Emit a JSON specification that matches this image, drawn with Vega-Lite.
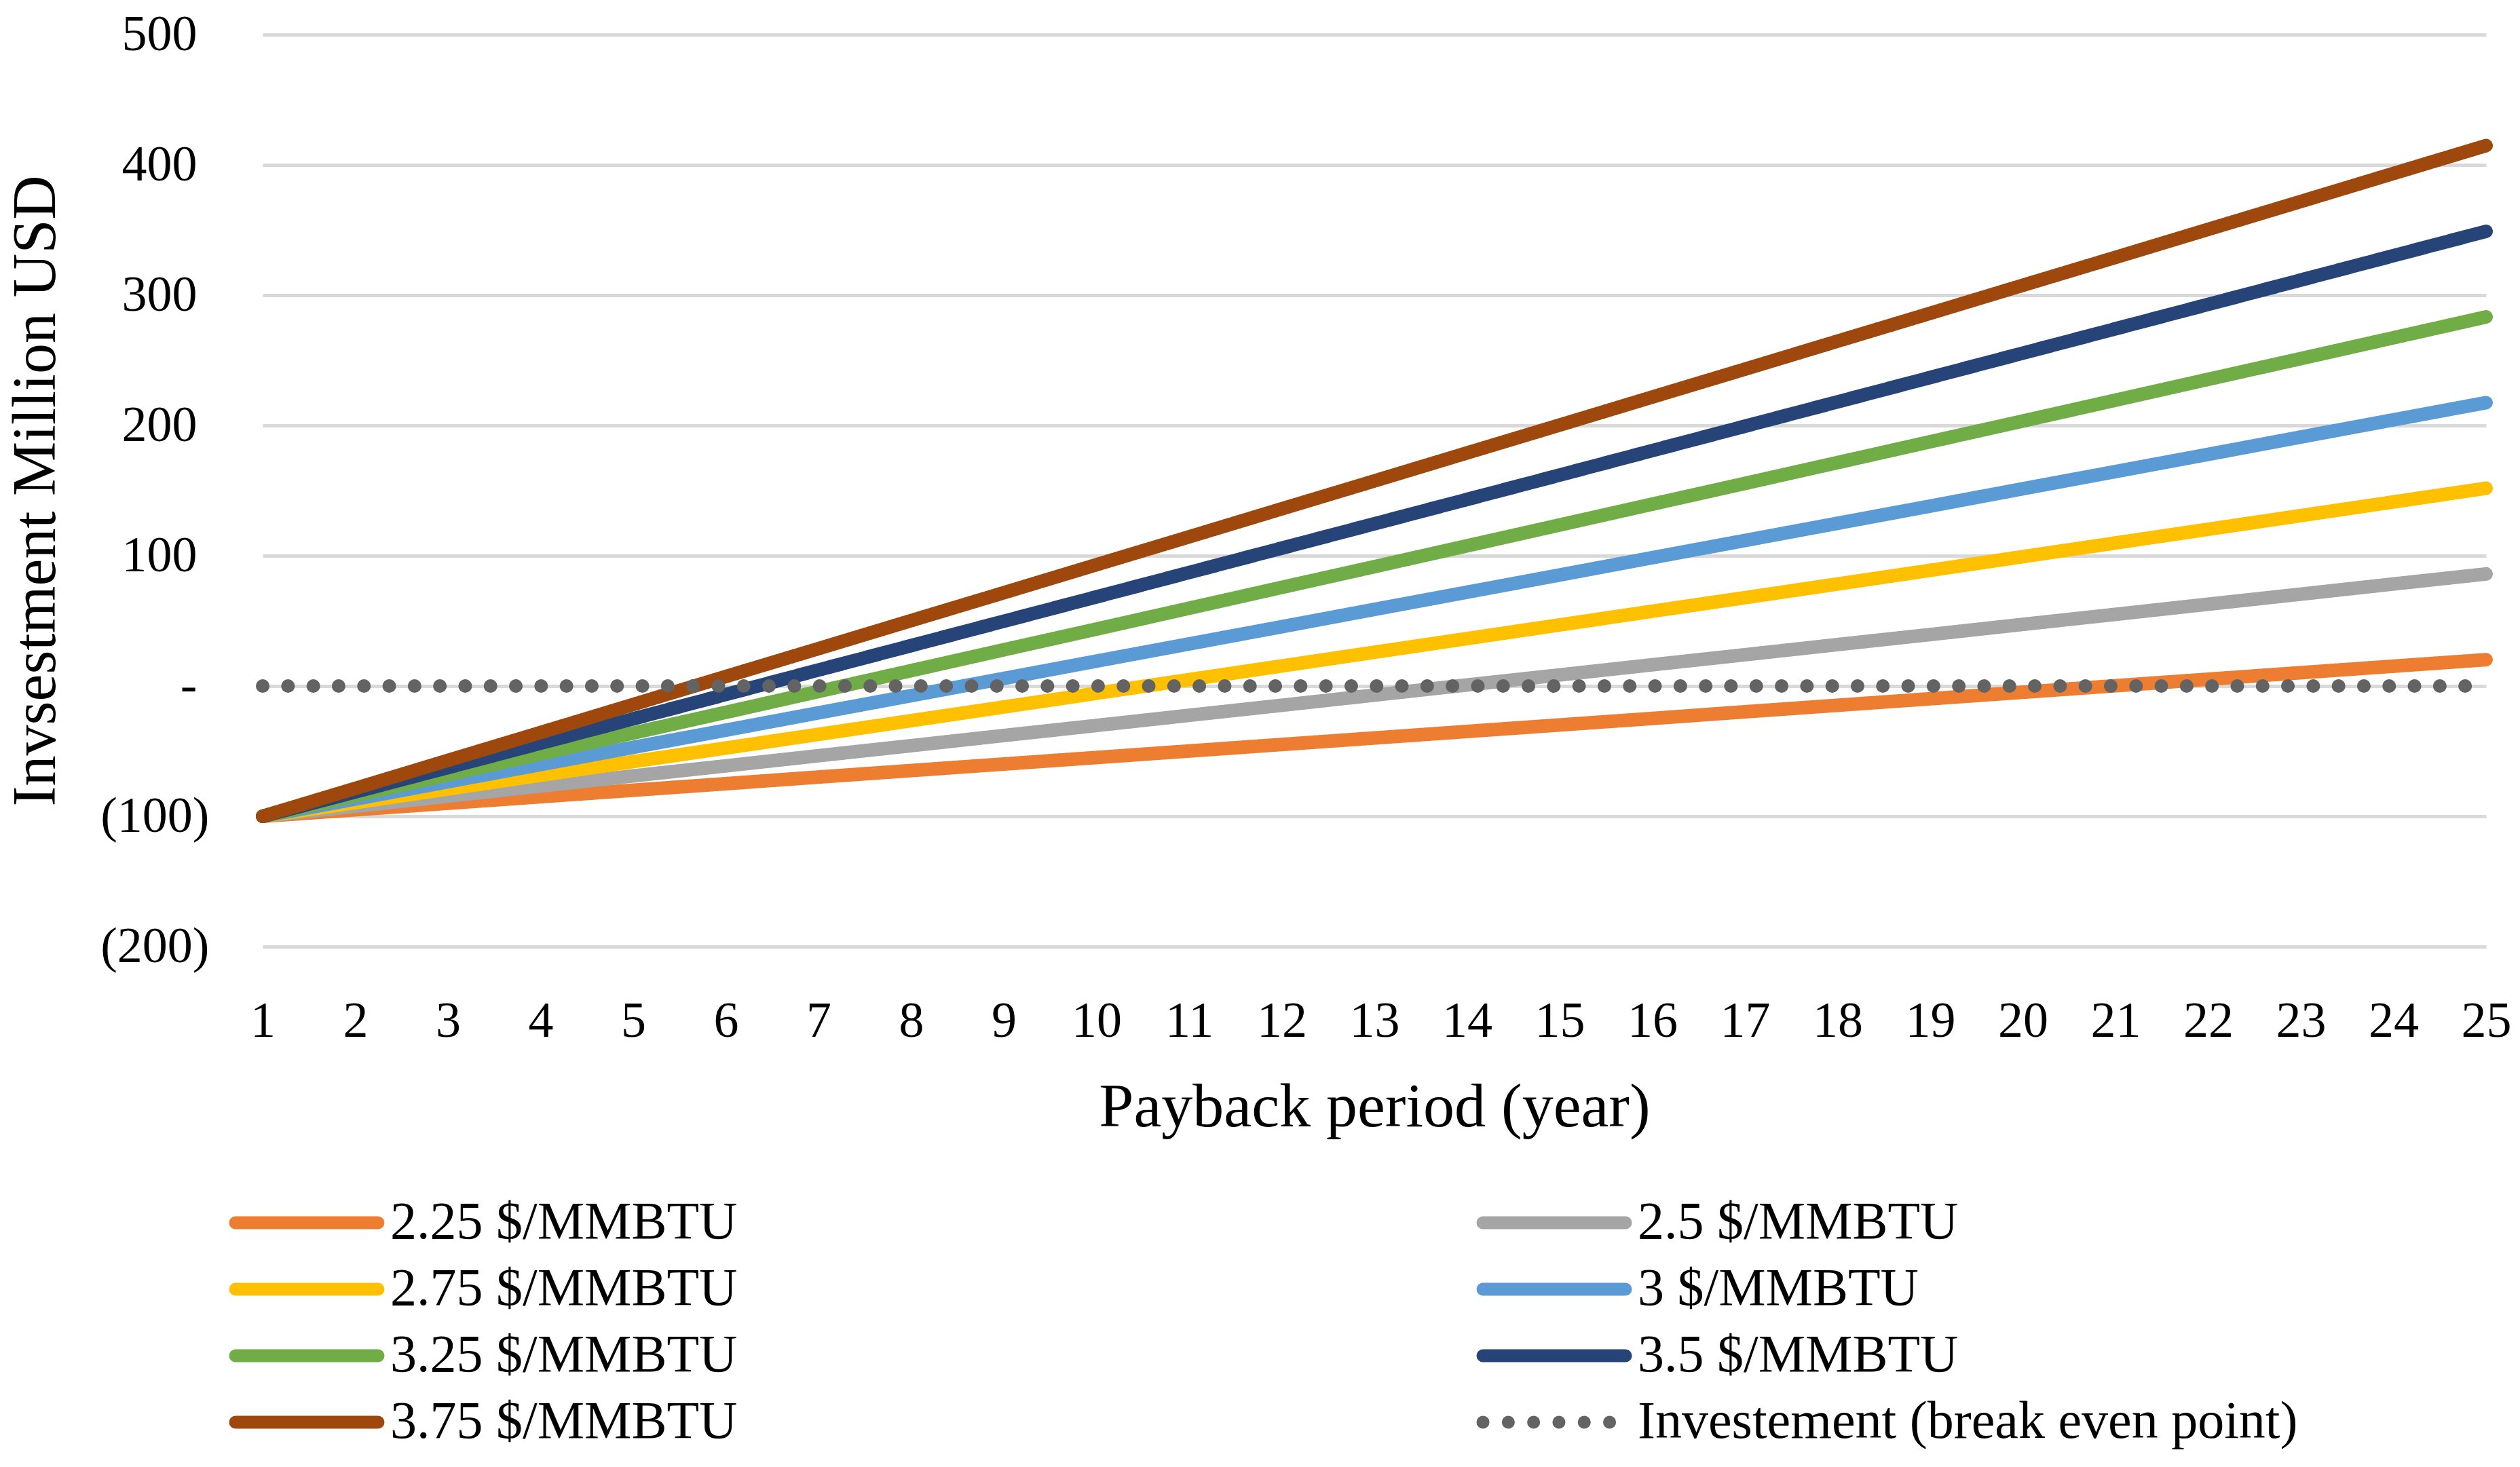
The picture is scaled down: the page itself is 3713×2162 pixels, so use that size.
{
  "$schema": "https://vega.github.io/schema/vega-lite/v6.json",
  "width": 3276,
  "height": 1344,
  "autosize": {"type": "none"},
  "padding": {"left": 387, "top": 51, "right": 50, "bottom": 767},
  "background": "white",
  "config": {
    "view": {"stroke": null},
    "font": "Liberation Serif",
    "axis": {
      "labelFont": "Liberation Serif",
      "titleFont": "Liberation Serif",
      "labelColor": "#000000",
      "titleColor": "#000000",
      "labelFontSize": 74,
      "titleFontWeight": "normal",
      "domain": false,
      "ticks": false,
      "tickSize": 0
    },
    "legend": {
      "labelFont": "Liberation Serif",
      "labelFontSize": 78,
      "labelColor": "#000000"
    }
  },
  "data": {
    "values": [
      {"year":1,"series":"2.25 $/MMBTU","value":-100},{"year":2,"series":"2.25 $/MMBTU","value":-95.0},{"year":3,"series":"2.25 $/MMBTU","value":-90.0},{"year":4,"series":"2.25 $/MMBTU","value":-85.0},{"year":5,"series":"2.25 $/MMBTU","value":-80.0},{"year":6,"series":"2.25 $/MMBTU","value":-75.0},{"year":7,"series":"2.25 $/MMBTU","value":-69.9},{"year":8,"series":"2.25 $/MMBTU","value":-64.9},{"year":9,"series":"2.25 $/MMBTU","value":-59.9},{"year":10,"series":"2.25 $/MMBTU","value":-54.9},{"year":11,"series":"2.25 $/MMBTU","value":-49.9},{"year":12,"series":"2.25 $/MMBTU","value":-44.9},{"year":13,"series":"2.25 $/MMBTU","value":-39.9},{"year":14,"series":"2.25 $/MMBTU","value":-34.9},{"year":15,"series":"2.25 $/MMBTU","value":-29.9},{"year":16,"series":"2.25 $/MMBTU","value":-24.9},{"year":17,"series":"2.25 $/MMBTU","value":-19.8},{"year":18,"series":"2.25 $/MMBTU","value":-14.8},{"year":19,"series":"2.25 $/MMBTU","value":-9.8},{"year":20,"series":"2.25 $/MMBTU","value":-4.8},{"year":21,"series":"2.25 $/MMBTU","value":0.2},{"year":22,"series":"2.25 $/MMBTU","value":5.2},{"year":23,"series":"2.25 $/MMBTU","value":10.2},{"year":24,"series":"2.25 $/MMBTU","value":15.2},{"year":25,"series":"2.25 $/MMBTU","value":20.2},
      {"year":1,"series":"2.5 $/MMBTU","value":-100},{"year":2,"series":"2.5 $/MMBTU","value":-92.3},{"year":3,"series":"2.5 $/MMBTU","value":-84.5},{"year":4,"series":"2.5 $/MMBTU","value":-76.8},{"year":5,"series":"2.5 $/MMBTU","value":-69.0},{"year":6,"series":"2.5 $/MMBTU","value":-61.3},{"year":7,"series":"2.5 $/MMBTU","value":-53.5},{"year":8,"series":"2.5 $/MMBTU","value":-45.8},{"year":9,"series":"2.5 $/MMBTU","value":-38.0},{"year":10,"series":"2.5 $/MMBTU","value":-30.3},{"year":11,"series":"2.5 $/MMBTU","value":-22.5},{"year":12,"series":"2.5 $/MMBTU","value":-14.8},{"year":13,"series":"2.5 $/MMBTU","value":-7.0},{"year":14,"series":"2.5 $/MMBTU","value":0.8},{"year":15,"series":"2.5 $/MMBTU","value":8.5},{"year":16,"series":"2.5 $/MMBTU","value":16.3},{"year":17,"series":"2.5 $/MMBTU","value":24.0},{"year":18,"series":"2.5 $/MMBTU","value":31.8},{"year":19,"series":"2.5 $/MMBTU","value":39.5},{"year":20,"series":"2.5 $/MMBTU","value":47.3},{"year":21,"series":"2.5 $/MMBTU","value":55.0},{"year":22,"series":"2.5 $/MMBTU","value":62.8},{"year":23,"series":"2.5 $/MMBTU","value":70.5},{"year":24,"series":"2.5 $/MMBTU","value":78.3},{"year":25,"series":"2.5 $/MMBTU","value":86.0},
      {"year":1,"series":"2.75 $/MMBTU","value":-100},{"year":2,"series":"2.75 $/MMBTU","value":-89.5},{"year":3,"series":"2.75 $/MMBTU","value":-79.0},{"year":4,"series":"2.75 $/MMBTU","value":-68.5},{"year":5,"series":"2.75 $/MMBTU","value":-58.0},{"year":6,"series":"2.75 $/MMBTU","value":-47.6},{"year":7,"series":"2.75 $/MMBTU","value":-37.1},{"year":8,"series":"2.75 $/MMBTU","value":-26.6},{"year":9,"series":"2.75 $/MMBTU","value":-16.1},{"year":10,"series":"2.75 $/MMBTU","value":-5.6},{"year":11,"series":"2.75 $/MMBTU","value":4.9},{"year":12,"series":"2.75 $/MMBTU","value":15.4},{"year":13,"series":"2.75 $/MMBTU","value":25.9},{"year":14,"series":"2.75 $/MMBTU","value":36.4},{"year":15,"series":"2.75 $/MMBTU","value":46.9},{"year":16,"series":"2.75 $/MMBTU","value":57.4},{"year":17,"series":"2.75 $/MMBTU","value":67.8},{"year":18,"series":"2.75 $/MMBTU","value":78.3},{"year":19,"series":"2.75 $/MMBTU","value":88.8},{"year":20,"series":"2.75 $/MMBTU","value":99.3},{"year":21,"series":"2.75 $/MMBTU","value":109.8},{"year":22,"series":"2.75 $/MMBTU","value":120.3},{"year":23,"series":"2.75 $/MMBTU","value":130.8},{"year":24,"series":"2.75 $/MMBTU","value":141.3},{"year":25,"series":"2.75 $/MMBTU","value":151.8},
      {"year":1,"series":"3 $/MMBTU","value":-100},{"year":2,"series":"3 $/MMBTU","value":-86.8},{"year":3,"series":"3 $/MMBTU","value":-73.5},{"year":4,"series":"3 $/MMBTU","value":-60.3},{"year":5,"series":"3 $/MMBTU","value":-47.1},{"year":6,"series":"3 $/MMBTU","value":-33.9},{"year":7,"series":"3 $/MMBTU","value":-20.6},{"year":8,"series":"3 $/MMBTU","value":-7.4},{"year":9,"series":"3 $/MMBTU","value":5.8},{"year":10,"series":"3 $/MMBTU","value":19.1},{"year":11,"series":"3 $/MMBTU","value":32.3},{"year":12,"series":"3 $/MMBTU","value":45.5},{"year":13,"series":"3 $/MMBTU","value":58.8},{"year":14,"series":"3 $/MMBTU","value":72.0},{"year":15,"series":"3 $/MMBTU","value":85.2},{"year":16,"series":"3 $/MMBTU","value":98.5},{"year":17,"series":"3 $/MMBTU","value":111.7},{"year":18,"series":"3 $/MMBTU","value":124.9},{"year":19,"series":"3 $/MMBTU","value":138.1},{"year":20,"series":"3 $/MMBTU","value":151.4},{"year":21,"series":"3 $/MMBTU","value":164.6},{"year":22,"series":"3 $/MMBTU","value":177.8},{"year":23,"series":"3 $/MMBTU","value":191.1},{"year":24,"series":"3 $/MMBTU","value":204.3},{"year":25,"series":"3 $/MMBTU","value":217.5},
      {"year":1,"series":"3.25 $/MMBTU","value":-100},{"year":2,"series":"3.25 $/MMBTU","value":-84.0},{"year":3,"series":"3.25 $/MMBTU","value":-68.1},{"year":4,"series":"3.25 $/MMBTU","value":-52.1},{"year":5,"series":"3.25 $/MMBTU","value":-36.1},{"year":6,"series":"3.25 $/MMBTU","value":-20.2},{"year":7,"series":"3.25 $/MMBTU","value":-4.2},{"year":8,"series":"3.25 $/MMBTU","value":11.8},{"year":9,"series":"3.25 $/MMBTU","value":27.8},{"year":10,"series":"3.25 $/MMBTU","value":43.7},{"year":11,"series":"3.25 $/MMBTU","value":59.7},{"year":12,"series":"3.25 $/MMBTU","value":75.7},{"year":13,"series":"3.25 $/MMBTU","value":91.6},{"year":14,"series":"3.25 $/MMBTU","value":107.6},{"year":15,"series":"3.25 $/MMBTU","value":123.6},{"year":16,"series":"3.25 $/MMBTU","value":139.6},{"year":17,"series":"3.25 $/MMBTU","value":155.5},{"year":18,"series":"3.25 $/MMBTU","value":171.5},{"year":19,"series":"3.25 $/MMBTU","value":187.5},{"year":20,"series":"3.25 $/MMBTU","value":203.4},{"year":21,"series":"3.25 $/MMBTU","value":219.4},{"year":22,"series":"3.25 $/MMBTU","value":235.4},{"year":23,"series":"3.25 $/MMBTU","value":251.3},{"year":24,"series":"3.25 $/MMBTU","value":267.3},{"year":25,"series":"3.25 $/MMBTU","value":283.3},
      {"year":1,"series":"3.5 $/MMBTU","value":-100},{"year":2,"series":"3.5 $/MMBTU","value":-81.3},{"year":3,"series":"3.5 $/MMBTU","value":-62.6},{"year":4,"series":"3.5 $/MMBTU","value":-43.9},{"year":5,"series":"3.5 $/MMBTU","value":-25.2},{"year":6,"series":"3.5 $/MMBTU","value":-6.5},{"year":7,"series":"3.5 $/MMBTU","value":12.3},{"year":8,"series":"3.5 $/MMBTU","value":31.0},{"year":9,"series":"3.5 $/MMBTU","value":49.7},{"year":10,"series":"3.5 $/MMBTU","value":68.4},{"year":11,"series":"3.5 $/MMBTU","value":87.1},{"year":12,"series":"3.5 $/MMBTU","value":105.8},{"year":13,"series":"3.5 $/MMBTU","value":124.5},{"year":14,"series":"3.5 $/MMBTU","value":143.2},{"year":15,"series":"3.5 $/MMBTU","value":161.9},{"year":16,"series":"3.5 $/MMBTU","value":180.7},{"year":17,"series":"3.5 $/MMBTU","value":199.4},{"year":18,"series":"3.5 $/MMBTU","value":218.1},{"year":19,"series":"3.5 $/MMBTU","value":236.8},{"year":20,"series":"3.5 $/MMBTU","value":255.5},{"year":21,"series":"3.5 $/MMBTU","value":274.2},{"year":22,"series":"3.5 $/MMBTU","value":292.9},{"year":23,"series":"3.5 $/MMBTU","value":311.6},{"year":24,"series":"3.5 $/MMBTU","value":330.3},{"year":25,"series":"3.5 $/MMBTU","value":349.0},
      {"year":1,"series":"3.75 $/MMBTU","value":-100},{"year":2,"series":"3.75 $/MMBTU","value":-78.6},{"year":3,"series":"3.75 $/MMBTU","value":-57.1},{"year":4,"series":"3.75 $/MMBTU","value":-35.7},{"year":5,"series":"3.75 $/MMBTU","value":-14.2},{"year":6,"series":"3.75 $/MMBTU","value":7.3},{"year":7,"series":"3.75 $/MMBTU","value":28.7},{"year":8,"series":"3.75 $/MMBTU","value":50.2},{"year":9,"series":"3.75 $/MMBTU","value":71.6},{"year":10,"series":"3.75 $/MMBTU","value":93.1},{"year":11,"series":"3.75 $/MMBTU","value":114.5},{"year":12,"series":"3.75 $/MMBTU","value":136.0},{"year":13,"series":"3.75 $/MMBTU","value":157.4},{"year":14,"series":"3.75 $/MMBTU","value":178.9},{"year":15,"series":"3.75 $/MMBTU","value":200.3},{"year":16,"series":"3.75 $/MMBTU","value":221.8},{"year":17,"series":"3.75 $/MMBTU","value":243.2},{"year":18,"series":"3.75 $/MMBTU","value":264.7},{"year":19,"series":"3.75 $/MMBTU","value":286.1},{"year":20,"series":"3.75 $/MMBTU","value":307.6},{"year":21,"series":"3.75 $/MMBTU","value":329.0},{"year":22,"series":"3.75 $/MMBTU","value":350.5},{"year":23,"series":"3.75 $/MMBTU","value":371.9},{"year":24,"series":"3.75 $/MMBTU","value":393.4},{"year":25,"series":"3.75 $/MMBTU","value":414.8},
      {"year":1,"series":"Investement (break even point)","value":0},{"year":2,"series":"Investement (break even point)","value":0},{"year":3,"series":"Investement (break even point)","value":0},{"year":4,"series":"Investement (break even point)","value":0},{"year":5,"series":"Investement (break even point)","value":0},{"year":6,"series":"Investement (break even point)","value":0},{"year":7,"series":"Investement (break even point)","value":0},{"year":8,"series":"Investement (break even point)","value":0},{"year":9,"series":"Investement (break even point)","value":0},{"year":10,"series":"Investement (break even point)","value":0},{"year":11,"series":"Investement (break even point)","value":0},{"year":12,"series":"Investement (break even point)","value":0},{"year":13,"series":"Investement (break even point)","value":0},{"year":14,"series":"Investement (break even point)","value":0},{"year":15,"series":"Investement (break even point)","value":0},{"year":16,"series":"Investement (break even point)","value":0},{"year":17,"series":"Investement (break even point)","value":0},{"year":18,"series":"Investement (break even point)","value":0},{"year":19,"series":"Investement (break even point)","value":0},{"year":20,"series":"Investement (break even point)","value":0},{"year":21,"series":"Investement (break even point)","value":0},{"year":22,"series":"Investement (break even point)","value":0},{"year":23,"series":"Investement (break even point)","value":0},{"year":24,"series":"Investement (break even point)","value":0},{"year":25,"series":"Investement (break even point)","value":0}
    ]
  },
  "mark": {"type": "line", "strokeWidth": 20, "strokeCap": "round", "strokeJoin": "round"},
  "encoding": {
    "x": {
      "field": "year",
      "type": "quantitative",
      "scale": {"domain": [1, 25], "nice": false, "zero": false},
      "axis": {
        "values": [1,2,3,4,5,6,7,8,9,10,11,12,13,14,15,16,17,18,19,20,21,22,23,24,25],
        "format": "d",
        "grid": false,
        "labelPadding": 74,
        "labelFlush": false,
        "title": "Payback period (year)",
        "titleFontSize": 92,
        "titlePadding": 44
      }
    },
    "y": {
      "field": "value",
      "type": "quantitative",
      "scale": {"domain": [-200, 500], "nice": false},
      "axis": {
        "values": [-200,-100,0,100,200,300,400,500],
        "labelExpr": "datum.value < 0 ? '(' + format(-datum.value, 'd') + ')' : datum.value == 0 ? '-' : format(datum.value, 'd')",
        "labelPadding": {"condition": {"test": "datum.value < 0", "value": 79}, "value": 97},
        "grid": true,
        "gridColor": "#D9D9D9",
        "gridWidth": 5,
        "title": "Invsestment Million USD",
        "titleFontSize": 90,
        "titlePadding": 88
      }
    },
    "color": {
      "field": "series",
      "type": "nominal",
      "sort": null,
      "scale": {
        "domain": ["2.25 $/MMBTU","2.5 $/MMBTU","2.75 $/MMBTU","3 $/MMBTU","3.25 $/MMBTU","3.5 $/MMBTU","3.75 $/MMBTU","Investement (break even point)"],
        "range": ["#ED7D31","#A5A5A5","#FFC000","#5B9BD5","#70AD47","#264478","#9E480E","#636363"]
      },
      "legend": {
        "title": null,
        "orient": "none",
        "legendX": 26,
        "legendY": 1712,
        "columns": 2,
        "direction": "horizontal",
        "symbolType": "M-5,0H5",
        "symbolSize": 1764,
        "symbolStrokeWidth": 19,
        "labelOffset": 84,
        "columnPadding": 1060,
        "rowPadding": 20,
        "labelLimit": 0,
        "encoding": {"symbols": {"strokeCap": {"value": "round"}}}
      }
    },
    "strokeDash": {
      "field": "series",
      "type": "nominal",
      "sort": null,
      "scale": {
        "domain": ["2.25 $/MMBTU","2.5 $/MMBTU","2.75 $/MMBTU","3 $/MMBTU","3.25 $/MMBTU","3.5 $/MMBTU","3.75 $/MMBTU","Investement (break even point)"],
        "range": [[1,0],[1,0],[1,0],[1,0],[1,0],[1,0],[1,0],[0.1,37.2]]
      },
      "legend": {
        "title": null,
        "orient": "none",
        "legendX": 26,
        "legendY": 1712,
        "columns": 2,
        "direction": "horizontal",
        "symbolType": "M-5,0H5",
        "symbolSize": 1764,
        "symbolStrokeWidth": 19,
        "labelOffset": 84,
        "columnPadding": 1060,
        "rowPadding": 20,
        "labelLimit": 0,
        "encoding": {"symbols": {"strokeCap": {"value": "round"}}}
      }
    }
  }
}
